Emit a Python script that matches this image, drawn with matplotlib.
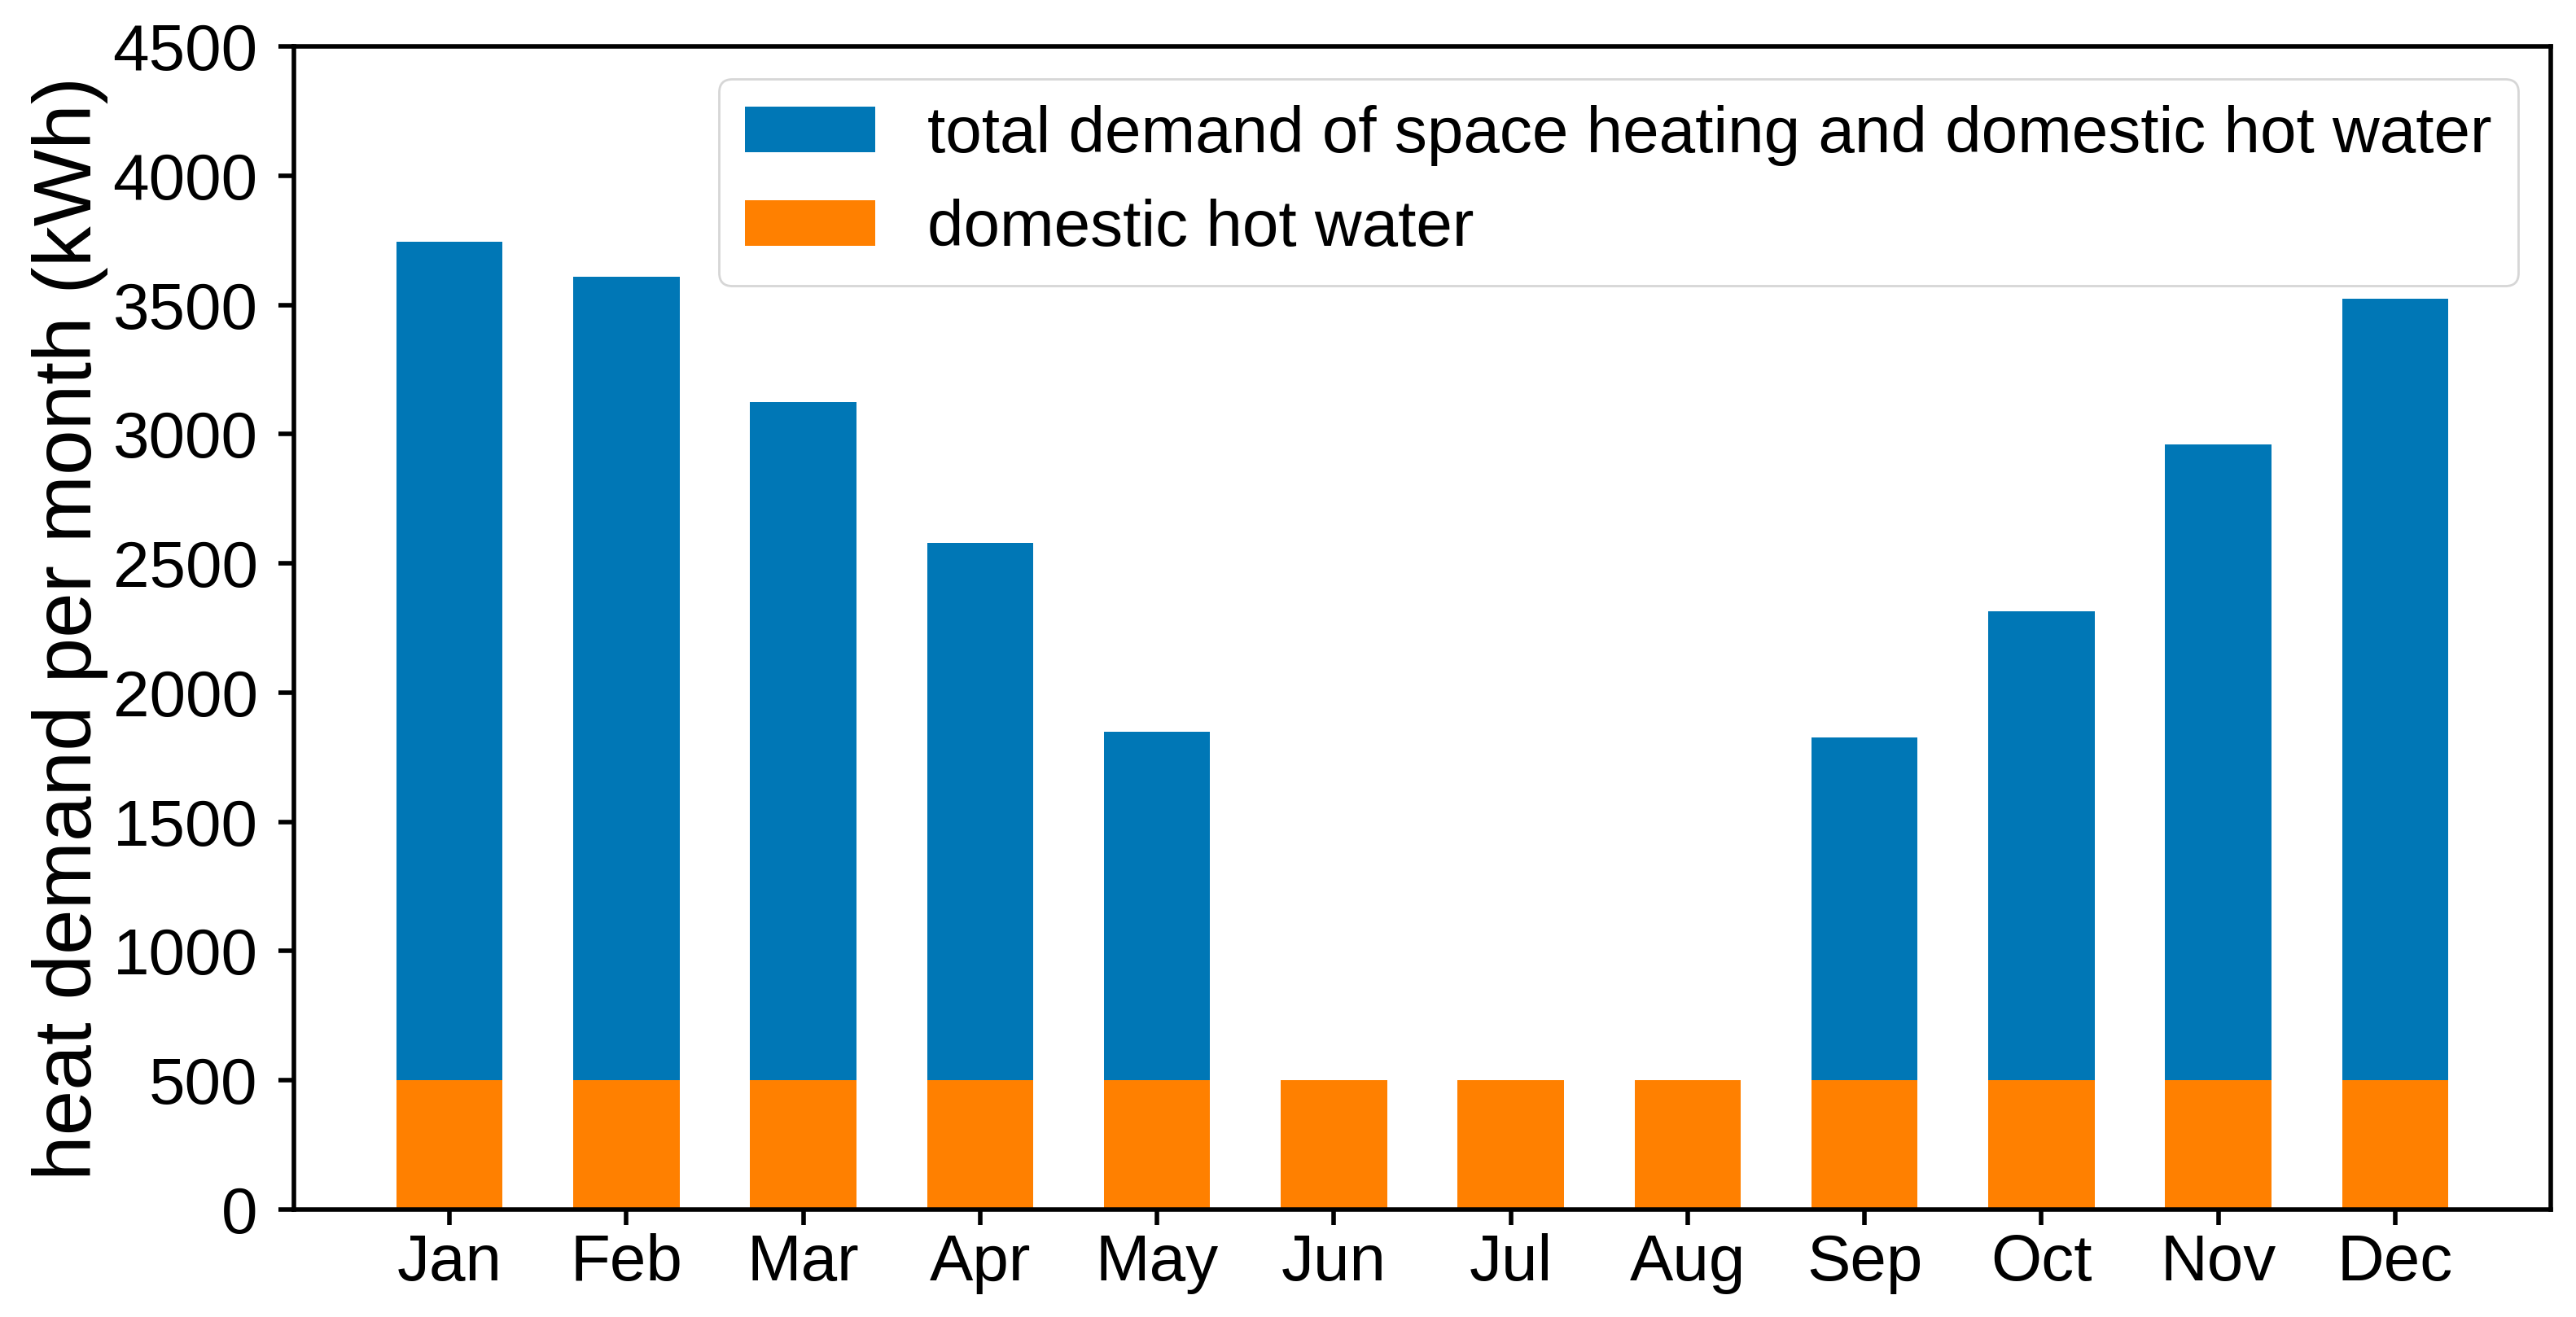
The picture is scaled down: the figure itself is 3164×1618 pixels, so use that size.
import matplotlib
matplotlib.use("Agg")
import matplotlib.pyplot as plt
import numpy as np

months = ["Jan", "Feb", "Mar", "Apr", "May", "Jun", "Jul", "Aug", "Sep", "Oct", "Nov", "Dec"]
total_demand = [3745, 3610, 3125, 2580, 1850, 500, 500, 500, 1825, 2315, 2960, 3525]
hot_water = [500, 500, 500, 500, 500, 500, 500, 500, 500, 500, 500, 500]
yticks = [0, 500, 1000, 1500, 2000, 2500, 3000, 3500, 4000, 4500]

plt.rcParams['font.family'] = ['Liberation Sans', 'DejaVu Sans']
plt.rcParams['font.size'] = 28.8

fig = plt.figure(figsize=(15.82, 8.09), dpi=200)
ax = fig.add_axes([361/3164, 1 - 1486/1618, (3133 - 361)/3164, (1486 - 57)/1618])

x = np.arange(len(months))
ax.bar(x, total_demand, width=0.6, color='#0077B6',
       label='total demand of space heating and domestic hot water')
ax.bar(x, hot_water, width=0.6, color='#FF8000', label='domestic hot water')

ax.set_xticks(x)
ax.set_xticklabels(months)
ax.set_yticks(yticks)
ax.set_ylim(0, 4500)
ax.set_ylabel('heat demand per month (kWh)', fontsize=36, labelpad=2)

for s in ax.spines.values():
    s.set_linewidth(2.0)
ax.tick_params(length=7, width=2)
ax.tick_params(axis='y', pad=9)

ax.legend(loc='upper right')

fig.savefig('out.png', dpi=200)
